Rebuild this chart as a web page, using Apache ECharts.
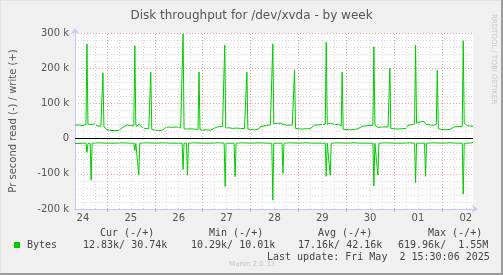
<!DOCTYPE html>
<html>
<head>
<meta charset="utf-8" />
<title>Disk throughput for /dev/xvda - by week</title>
<script src="https://cdn.jsdelivr.net/npm/echarts@6/dist/echarts.min.js"></script>
<style>
  html, body { margin: 0; padding: 0; background: #f0f0f0; }
  #chart { width: 503px; height: 275px; }
</style>
</head>
<body>
<div id="chart"></div>
<script type="text/javascript">
// x = hours since Apr 24 00:00, y = kB per second
// write (+)
var writeData = [
  [8,38],[9,40],[10,39],[11,44],[12,37],[13,39],[13.5,40],[14,269],[14.5,41],[15,45],[16,40],[17,38],[18,42],
  [19,36],[20,38],[21,35],[21.5,34],[22,187],[22.5,33],[23,30],[24,26],[25,24],[26,23],[27,24],[28,23],[29,24],
  [30,23],[31,26],[32,32],[33,35],[34,39],[35,34],[36,37],[37,35],[37.5,36],[38,264],[38.5,40],[39,34],[40,42],
  [41,35],[42,33],[43,29],[44,28],[45,28],[45.5,28],[46,189],[46.5,26],[47,24],[48,24],[50,23],[52,24],[53,30],
  [54,34],[55,33],[56,35],[57,32],[58,35],[59,33],[60,34],[61,30],[61.7,30],[62.2,297],[62.7,28],[64,27],[66,28],
  [68,27],[69.7,26],[70.2,189],[70.7,25],[72,24],[74,25],[76,24],[77,27],[78,30],[79,32],[80,34],[81,33],[82,34],
  [82.6,33],[83.1,266],[83.6,30],[85,31],[87,29],[89,30],[91,29],[93,28],[93.7,28],[94.2,189],[94.7,27],[96,26],
  [98,25],[100,27],[101,34],[102,38],[104,37],[105,40],[106,39],[106.7,38],[107.2,269],[107.7,42],[109,43],
  [110,40],[111,44],[112,41],[113,39],[114,42],[115,38],[116,36],[117,39],[117.6,35],[118.1,194],[118.6,29],
  [120,28],[122,27],[124,28],[126,28],[127,33],[128,38],[129,40],[130,39],[131,42],[132,40],[133.5,41],[134,274],
  [134.5,41],[136,44],[137,47],[138,40],[139,38],[140,41],[141,37],[141.5,36],[142,189],[142.5,26],[144,26],
  [146,25],[148,26],[150,28],[151,33],[152,35],[153,36],[155,37],[156,36],[157.4,37],[157.9,261],[158.4,38],
  [160,32],[161,37],[162,33],[163,34],[165,33],[165.4,32],[165.9,200],[166.4,29],[168,28],[170,27],[172,28],
  [174,29],[175,38],[176,41],[177,40],[178.3,42],[178.8,266],[179.3,44],[180,40],[181,47],[182,42],[183,49],
  [184,40],[185,43],[186,39],[187,44],[188,38],[189.2,41],[189.7,194],[190.2,28],[192,26],[194,25],[196,26],
  [197,29],[198,33],[200,34],[201,33],[202.2,35],[202.7,278],[203.2,44],[204,43],[205,36],[206,34],[207.6,35]
];
// read (-)
var readData = [
  [8,-14],[10,-14],[12,-13],[13.5,-13],[14,-39],[14.5,-14],[15.6,-13],[16.1,-118],[16.6,-13],[20,-12],[24,-13],
  [28,-13],[32,-12],[36,-13],[37.5,-13],[38,-34],[38.5,-13],[39.5,-14],[40,-104],[40.5,-13],[44,-12],[48,-13],
  [52,-12],[56,-13],[60,-13],[61.7,-13],[62.2,-88],[62.7,-13],[63.9,-13],[64.4,-104],[64.9,-13],[68,-12],[72,-13],
  [76,-13],[80,-12],[82.8,-13],[83.3,-136],[83.8,-13],[87.8,-13],[88.3,-108],[88.8,-13],[92,-12],[96,-13],
  [100,-12],[104,-13],[106.7,-13],[107.2,-175],[107.7,-13],[111.8,-13],[112.3,-99],[112.8,-13],[116,-12],
  [120,-13],[124,-12],[128,-13],[133.5,-13],[134,-107],[134.5,-13],[135.5,-13],[136,-104],[136.5,-13],[140,-12],
  [144,-13],[148,-12],[152,-13],[157.4,-13],[157.9,-135],[158.4,-13],[159.4,-13],[159.9,-104],[160.4,-13],
  [164,-12],[168,-13],[172,-13],[176,-12],[178.3,-13],[178.8,-125],[179.3,-13],[183.3,-13],[183.8,-107],
  [184.3,-13],[188,-12],[192,-13],[196,-12],[200,-13],[202.2,-13],[202.7,-158],[203.2,-13],[206,-13],[207.6,-11]
];
// day boundaries (red grid), 6h lines (grey grid), labels at noon
var dayLines = [24,48,72,96,120,144,168,192];
var sixHourLines = [12,18,30,36,42,54,60,66,78,84,90,102,108,114,126,132,138,150,156,162,174,180,186,198,204];
var labelHours = [12,36,60,84,108,132,156,180,204];
var dayLabels = ['24','25','26','27','28','29','30','01','02'];

var legendHead = ['Cur (-/+)','Min (-/+)','Avg (-/+)','Max (-/+)'];
var legendVals = ['12.83k/ 30.74k','10.29k/ 10.01k','17.16k/ 42.16k','619.96k/  1.55M'];

var GREEN = '#00cc00';
var MONO = '"DejaVu Sans Mono", monospace';
var SANS = '"DejaVu Sans", sans-serif';

var gridMarks = [];
for (var i = 0; i < sixHourLines.length; i++) {
  gridMarks.push({xAxis: sixHourLines[i], lineStyle: {color: '#d6d6d6', type: [1, 2], width: 1}});
}
for (var j = 0; j < dayLines.length; j++) {
  gridMarks.push({xAxis: dayLines[j], lineStyle: {color: '#f0a0a0', type: [1, 2], width: 1}});
}

var headX = [100, 209, 318, 428];
var valX = [83, 191, 298, 398];
var graphics = [
  // frame
  {type: 'line', shape: {x1: 0, y1: 0.5, x2: 503, y2: 0.5}, style: {stroke: '#e2e2e2', lineWidth: 1}},
  {type: 'line', shape: {x1: 0.5, y1: 0, x2: 0.5, y2: 275}, style: {stroke: '#e2e2e2', lineWidth: 1}},
  {type: 'line', shape: {x1: 0, y1: 274, x2: 503, y2: 274}, style: {stroke: '#9c9c9c', lineWidth: 2}},
  {type: 'line', shape: {x1: 502, y1: 0, x2: 502, y2: 275}, style: {stroke: '#9c9c9c', lineWidth: 2}},
  {type: 'text', x: 494, y: 14, rotation: -Math.PI / 2,
    style: {text: 'RRDTOOL / TOBI OETIKER', font: '7px ' + SANS, fill: '#c8c8c8', align: 'left', verticalAlign: 'middle'}},
  {type: 'rect', shape: {x: 14, y: 242, width: 6, height: 6}, style: {fill: GREEN}},
  {type: 'text', x: 27, y: 245, style: {text: 'Bytes', font: '10px ' + MONO, fill: '#444', verticalAlign: 'middle'}},
  {type: 'text', x: 267, y: 257, style: {text: 'Last update: Fri May  2 15:30:06 2025', font: '10px ' + MONO, fill: '#444', verticalAlign: 'middle'}},
  {type: 'text', x: 252, y: 264, style: {text: 'Munin 2.0.33', font: '7px ' + SANS, fill: '#c4c4c4', align: 'center', verticalAlign: 'middle'}}
];
for (var k = 0; k < legendHead.length; k++) {
  graphics.push({type: 'text', x: headX[k], y: 233,
    style: {text: legendHead[k], font: '10px ' + MONO, fill: '#444', verticalAlign: 'middle'}});
  graphics.push({type: 'text', x: valX[k], y: 245,
    style: {text: legendVals[k], font: '10px ' + MONO, fill: '#444', verticalAlign: 'middle'}});
}

var myChart = echarts.init(document.getElementById('chart'), null, {renderer: 'canvas'});
var option = {
  animation: false,
  backgroundColor: '#f0f0f0',
  title: {
    text: 'Disk throughput for /dev/xvda - by week',
    left: 'center',
    top: 5,
    textStyle: {fontFamily: SANS, fontSize: 12, fontWeight: 'normal', color: '#555'}
  },
  grid: {
    left: 72, top: 33, width: 401, height: 176,
    show: true, backgroundColor: '#ffffff', borderWidth: 0
  },
  xAxis: {
    type: 'value',
    min: 8,
    max: 207.6,
    axisLine: {
      onZero: false,
      lineStyle: {color: '#c8c8f4', width: 1},
      symbol: ['none', 'arrow'],
      symbolSize: [6, 6],
      symbolOffset: [0, 5]
    },
    axisTick: {show: true, customValues: dayLines, length: 3, lineStyle: {color: '#f0a0a0'}},
    splitLine: {show: false},
    axisLabel: {
      customValues: labelHours,
      fontFamily: SANS, fontSize: 10, color: '#555', margin: 4,
      formatter: function (v) {
        var idx = labelHours.indexOf(v);
        return idx >= 0 ? dayLabels[idx] : '';
      }
    }
  },
  yAxis: {
    type: 'value',
    min: -200,
    max: 300,
    interval: 100,
    name: 'Pr second read (-) / write (+)',
    nameLocation: 'middle',
    nameRotate: 90,
    nameGap: 57,
    nameTextStyle: {fontFamily: SANS, fontSize: 10, color: '#555'},
    axisLine: {
      show: true,
      lineStyle: {color: '#c8c8f4', width: 1},
      symbol: ['none', 'arrow'],
      symbolSize: [6, 6],
      symbolOffset: [0, 5]
    },
    axisTick: {show: false},
    axisLabel: {
      fontFamily: SANS, fontSize: 10, color: '#555', margin: 6,
      formatter: function (v) { return v === 0 ? '0' : v + ' k'; }
    },
    splitLine: {show: true, lineStyle: {color: '#f0a0a0', type: [1, 2], width: 1}},
    minorTick: {show: false, splitNumber: 5},
    minorSplitLine: {show: true, lineStyle: {color: '#d6d6d6', type: [1, 2], width: 1}}
  },
  graphic: graphics,
  series: [
    {
      // vertical grid lines only
      name: 'grid',
      type: 'line',
      data: [[8, 0]],
      symbol: 'none',
      silent: true,
      z: 1,
      lineStyle: {opacity: 0},
      markLine: {symbol: 'none', silent: true, label: {show: false}, animation: false, data: gridMarks}
    },
    {
      name: 'write',
      type: 'line',
      data: writeData,
      showSymbol: false,
      symbol: 'none',
      z: 3,
      lineStyle: {color: GREEN, width: 1}
    },
    {
      name: 'read',
      type: 'line',
      data: readData,
      showSymbol: false,
      symbol: 'none',
      z: 3,
      lineStyle: {color: GREEN, width: 1},
      markLine: {
        symbol: 'none', silent: true, label: {show: false}, animation: false,
        data: [{yAxis: 0, lineStyle: {color: '#000', type: 'solid', width: 1}}]
      }
    }
  ]
};
myChart.setOption(option);
</script>
</body>
</html>
